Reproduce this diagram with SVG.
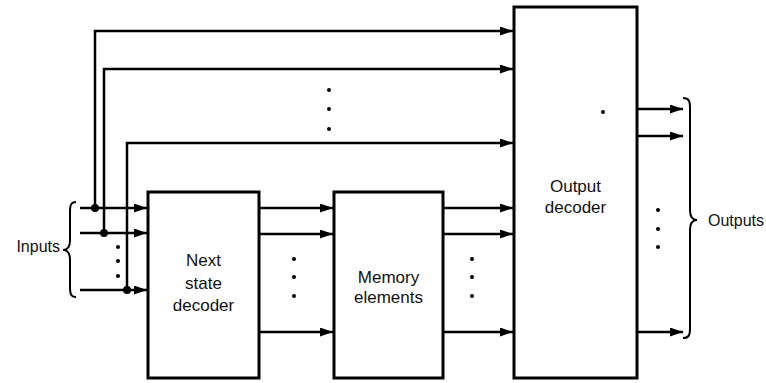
<svg xmlns="http://www.w3.org/2000/svg" width="766" height="383" viewBox="0 0 766 383">
<defs>
<marker id="ah" markerUnits="userSpaceOnUse" markerWidth="13" markerHeight="9" refX="13" refY="4.5" orient="auto">
<path d="M0,0 L13,4.5 L0,9 z" fill="#000"/>
</marker>
<style>
.box{fill:#fff;stroke:#000;stroke-width:3}
.ln{fill:none;stroke:#000;stroke-width:2.5;marker-end:url(#ah)}
.br{fill:none;stroke:#000;stroke-width:2}
.t{font-family:"Liberation Sans",Arial,sans-serif;font-size:17px;fill:#111;text-anchor:middle}
.s{font-family:"Liberation Sans",Arial,sans-serif;font-size:16px;fill:#111}
.d{fill:#000}
</style>
</defs>
<rect width="766" height="383" fill="#fff"/>
<g id="connectors">
<path class="ln" d="M80,208 H147"/>
<path class="ln" d="M80,233 H147"/>
<path class="ln" d="M80,290 H147"/>
<path class="ln" d="M95,208 V31 H513"/>
<path class="ln" d="M104,233 V69 H513"/>
<path class="ln" d="M127,290 V143 H513"/>
<circle class="d" cx="95" cy="208" r="4"/>
<circle class="d" cx="104" cy="233" r="4"/>
<circle class="d" cx="127" cy="290" r="4"/>
<circle class="d" cx="118" cy="247" r="2"/>
<circle class="d" cx="118" cy="261" r="2"/>
<circle class="d" cx="118" cy="276" r="2"/>
<circle class="d" cx="329" cy="90" r="2"/>
<circle class="d" cx="329" cy="109" r="2"/>
<circle class="d" cx="329" cy="129" r="2"/>
<path class="ln" d="M259,208 H333"/>
<path class="ln" d="M259,234 H333"/>
<path class="ln" d="M259,332 H333"/>
<circle class="d" cx="294" cy="259" r="2"/>
<circle class="d" cx="294" cy="277" r="2"/>
<circle class="d" cx="294" cy="296" r="2"/>
<path class="ln" d="M443,208 H513"/>
<path class="ln" d="M443,234 H513"/>
<path class="ln" d="M443,332 H513"/>
<circle class="d" cx="472" cy="259" r="2"/>
<circle class="d" cx="472" cy="277" r="2"/>
<circle class="d" cx="472" cy="296" r="2"/>
<path class="ln" d="M637,109 H683"/>
<path class="ln" d="M637,136 H683"/>
<path class="ln" d="M637,332 H683"/>
<circle class="d" cx="658" cy="210" r="2"/>
<circle class="d" cx="658" cy="229" r="2"/>
<circle class="d" cx="658" cy="247" r="2"/>
</g>
<g id="inputs">
<path class="br" d="M76,202 C71,202 70,205 70,212 L70,240 C70,247 67,250 63,250 C67,250 70,253 70,260 L70,287 C70,294 71,297 76,297"/>
<text class="s" x="60" y="252" text-anchor="end">Inputs</text>
</g>
<g id="next-state-decoder">
<rect class="box" x="148" y="192" width="111" height="186"/>
<text class="t" x="203.5" y="266">Next</text>
<text class="t" x="203.5" y="289">state</text>
<text class="t" x="203.5" y="311">decoder</text>
</g>
<g id="memory-elements">
<rect class="box" x="334" y="192" width="109" height="186"/>
<text class="t" x="388.5" y="283">Memory</text>
<text class="t" x="388.5" y="303">elements</text>
</g>
<g id="output-decoder">
<rect class="box" x="514" y="7" width="123" height="371"/>
<circle class="d" cx="603" cy="112" r="2"/>
<text class="t" x="575.5" y="192">Output</text>
<text class="t" x="575.5" y="213">decoder</text>
</g>
<g id="outputs">
<path class="br" d="M683,98 C689,98 690,101 690,108 L690,210 C690,217 693,220 697,220 C693,220 690,223 690,230 L690,328 C690,335 689,338 683,338"/>
<text class="s" x="708" y="226">Outputs</text>
</g>
</svg>
